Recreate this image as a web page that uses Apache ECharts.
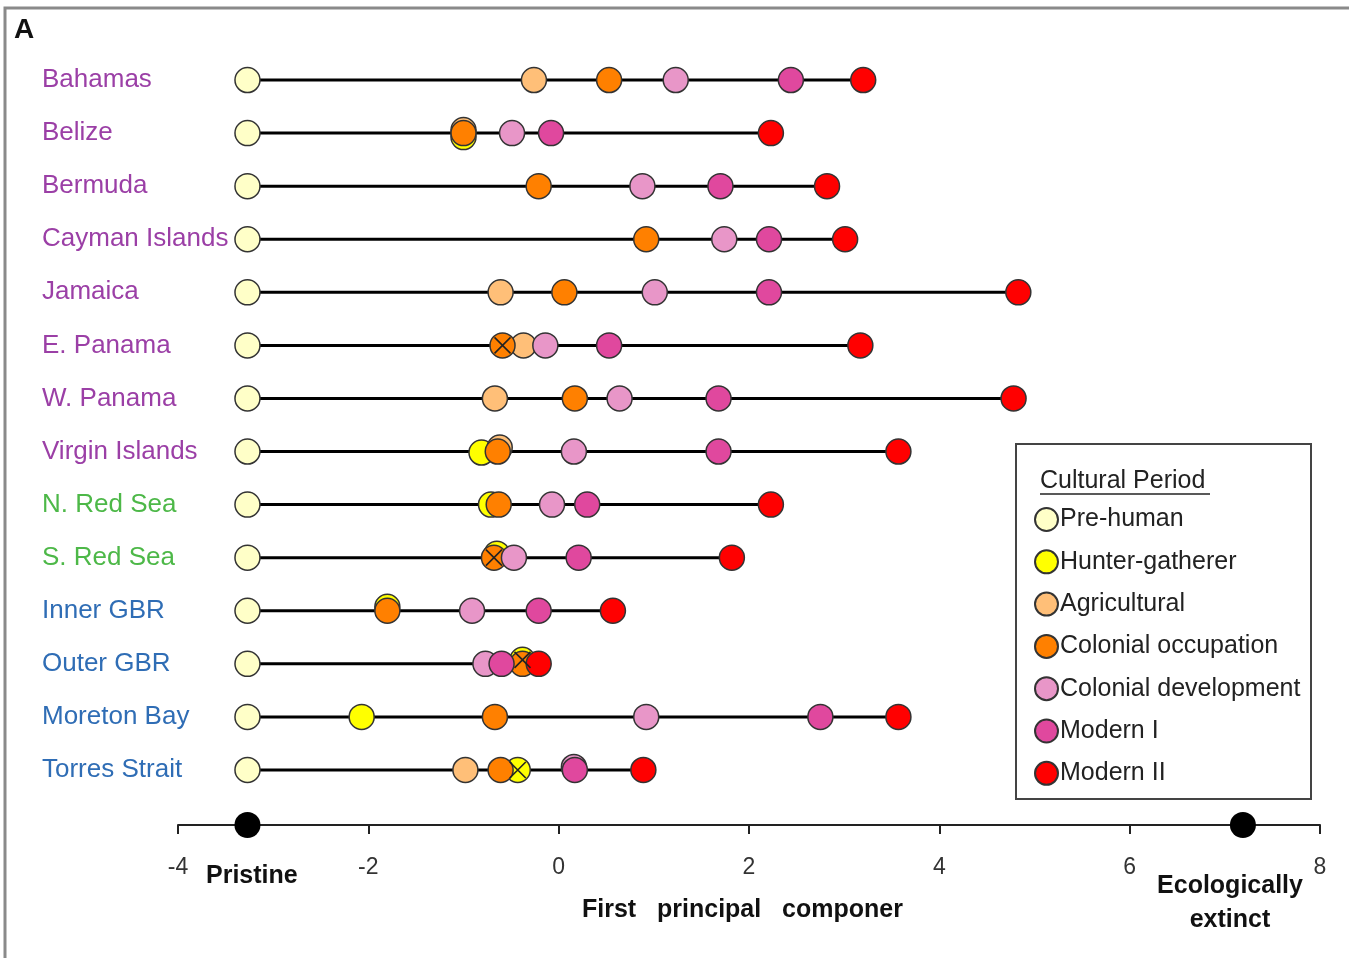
<!DOCTYPE html>
<html>
<head>
<meta charset="utf-8">
<script src="https://cdn.jsdelivr.net/npm/echarts@6/dist/echarts.min.js"></script>
<style>html,body{margin:0;padding:0;background:#fff;}#c{width:1349px;height:958px;}</style>
</head>
<body>
<div id="c"></div>
<script>
// ---- data ----
const sites = ['Bahamas','Belize','Bermuda','Cayman Islands','Jamaica','E. Panama','W. Panama','Virgin Islands','N. Red Sea','S. Red Sea','Inner GBR','Outer GBR','Moreton Bay','Torres Strait'];
const regions = ['Caribbean','Caribbean','Caribbean','Caribbean','Caribbean','Caribbean','Caribbean','Caribbean','Red Sea','Red Sea','Australia','Australia','Australia','Australia'];
const periods = ['Pre-human','Hunter-gatherer','Agricultural','Colonial occupation','Colonial development','Modern I','Modern II'];
const preHuman     = [-3.27,-3.27,-3.27,-3.27,-3.27,-3.27,-3.27,-3.27,-3.27,-3.27,-3.27,-3.27,-3.27,-3.27];
const hunterGath   = [null,-1.00,null,null,null,null,null,-0.79,-0.69,-0.66,-1.80,-0.38,-2.07,-0.43];
const agricultural = [-0.26,-1.00,null,null,-0.61,-0.37,-0.67,-0.63,null,null,null,null,null,-0.98];
const colonialOcc  = [0.53,-1.00,-0.21,0.92,0.06,-0.59,0.17,-0.64,-0.63,-0.68,-1.80,-0.38,-0.67,-0.61];
const colonialDev  = [1.23,-0.49,0.88,1.74,1.01,-0.14,0.64,0.16,-0.07,-0.47,-0.91,-0.77,0.92,0.16];
const modernI      = [2.44,-0.08,1.70,2.21,2.21,0.53,1.68,1.68,0.30,0.21,-0.21,-0.60,2.75,0.17];
const modernII     = [3.20,2.23,2.82,3.01,4.83,3.17,4.78,3.57,2.23,1.82,0.57,-0.21,3.57,0.89];
// points marked with an X (period index, site index)
const crossed = [[3,5],[3,9],[1,11],[1,13]];
const anchors = [-3.27, 7.19]; // Pristine, Ecologically extinct
const xTicks = {min:-4, max:8, interval:2};

// ---- styles ----
const periodValues = [preHuman,hunterGath,agricultural,colonialOcc,colonialDev,modernI,modernII];
const periodColors = ['#ffffc8','#ffff00','#ffbf78','#ff8000','#e896c8','#e0489e','#ff0000'];
const regionColors = {'Caribbean':'#9b3fa6','Red Sea':'#4db848','Australia':'#2f6db5'};
// small vertical nudges for stacked overlapping markers (style only)
const nudges = {
  '1|1':[0,4],'2|1':[0,-3],
  '2|7':[1,-4],'1|7':[-2,1],
  '1|8':[-2,0],
  '1|9':[1,-4],
  '1|10':[0,-4],
  '1|11':[0,-4],
  '4|13':[0,-3]
};
const FONT = '"Liberation Sans", Arial, sans-serif';

const chart = echarts.init(document.getElementById('c'), null, {renderer:'canvas'});

const rangeData = sites.map((s,i)=>[preHuman[i], modernII[i], i]);

const series = [{
  type:'custom', name:'range', xAxisIndex:0, yAxisIndex:0, silent:true, z:1,
  data: rangeData,
  renderItem: function(params, api){
    const p1 = api.coord([api.value(0), api.value(2)]);
    const p2 = api.coord([api.value(1), api.value(2)]);
    return {type:'line', shape:{x1:p1[0],y1:p1[1],x2:p2[0],y2:p2[1]}, style:{stroke:'#000', lineWidth:3}};
  },
  encode:{x:[0,1], y:2}
}];

periods.forEach((p,k)=>{
  const data = [];
  periodValues[k].forEach((v,i)=>{
    if(v===null) return;
    const d = {value:[v, i]};
    const n = nudges[k+'|'+i];
    if(n) d.symbolOffset = n;
    data.push(d);
  });
  series.push({
    type:'scatter', name:p, xAxisIndex:0, yAxisIndex:0, z:2+k,
    symbol:'circle', symbolSize:25,
    itemStyle:{color:periodColors[k], borderColor:'#333', borderWidth:1.5, opacity:1},
    data:data
  });
});

series.push({
  type:'scatter', name:'x-mark', xAxisIndex:0, yAxisIndex:0, z:20, silent:true,
  symbol:'path://M0,0L10,10M10,0L0,10', symbolSize:16,
  itemStyle:{color:'none', borderColor:'#222', borderWidth:1.6, opacity:1},
  data: crossed.map(c=>{const d={value:[periodValues[c[0]][c[1]], c[1]]}; const n=nudges[c[0]+'|'+c[1]]; if(n) d.symbolOffset=n; return d;})
});

series.push({
  type:'scatter', name:'anchors', xAxisIndex:1, yAxisIndex:1, z:5, silent:true,
  symbol:'circle', symbolSize:26, itemStyle:{color:'#000', opacity:1},
  data: anchors.map(v=>[v,0])
});

const option = {
  backgroundColor:'#fff',
  animation:false,
  grid:[
    {left:178, right:29, top:53.5, height:743},
    {left:178, right:29, top:805, height:40}
  ],
  xAxis:[
    {type:'value', gridIndex:0, min:xTicks.min, max:xTicks.max, interval:xTicks.interval, show:false, splitLine:{show:false}},
    {type:'value', gridIndex:1, min:xTicks.min, max:xTicks.max, interval:xTicks.interval,
     axisLine:{onZero:true, lineStyle:{color:'#222', width:2}},
     axisTick:{show:true, inside:false, length:9, lineStyle:{color:'#222', width:2}},
     axisLabel:{color:'#333', fontSize:23, fontFamily:FONT, margin:11},
     splitLine:{show:false}}
  ],
  yAxis:[
    {type:'category', gridIndex:0, data:sites, inverse:true,
     axisLine:{show:false}, axisTick:{show:false}, splitLine:{show:false},
     axisLabel:{align:'left', margin:136, fontSize:26, fontFamily:FONT, padding:[12,0,0,0],
       color: function(v, idx){ return regionColors[regions[sites.indexOf(v)]]; }}},
    {type:'value', gridIndex:1, min:-1, max:1, show:false}
  ],
  legend:{
    data:periods, orient:'vertical', left:1029, top:502,
    icon:'circle', itemWidth:23, itemHeight:23, itemGap:17.3,
    textStyle:{fontSize:25, fontFamily:FONT, color:'#222', lineHeight:23, padding:[0,0,0,-3]},
    selectedMode:false
  },
  graphic:[
    {type:'rect', shape:{x:5, y:8, width:1360, height:980}, style:{fill:'none', stroke:'#8a8a8a', lineWidth:3}, z:0},
    {type:'text', left:14, top:16, style:{text:'A', font:'bold 28px '+FONT, fill:'#111'}},
    {type:'rect', shape:{x:1016, y:444, width:295, height:355}, style:{fill:'#fff', stroke:'#444', lineWidth:2}, z:-1},
    {type:'text', left:1040, top:469, style:{text:'Cultural Period', font:'25px '+FONT, fill:'#222'}},
    {type:'line', shape:{x1:1040, y1:494, x2:1210, y2:494}, style:{stroke:'#222', lineWidth:1.5}},
    {type:'text', left:206, top:864, style:{text:'Pristine', font:'bold 25px '+FONT, fill:'#111'}},
    {type:'text', left:582, top:898, style:{text:'First   principal   componer', font:'bold 25px '+FONT, fill:'#111'}},
    {type:'text', x:1230, y:886, style:{text:'Ecologically', font:'bold 25px '+FONT, fill:'#111', align:'center', verticalAlign:'middle'}},
    {type:'text', x:1230, y:920, style:{text:'extinct', font:'bold 25px '+FONT, fill:'#111', align:'center', verticalAlign:'middle'}}
  ],
  series:series
};
chart.setOption(option);
</script>
</body>
</html>
